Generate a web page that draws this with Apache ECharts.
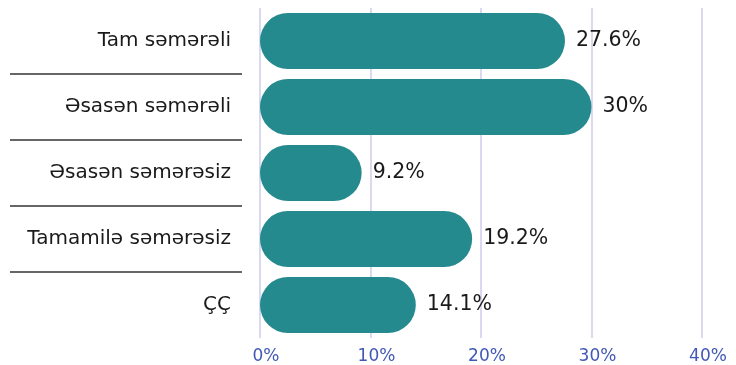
<!DOCTYPE html>
<html>
<head>
<meta charset="utf-8">
<style>
  html, body { margin: 0; padding: 0; background: #ffffff; }
  #chart { width: 736px; height: 365px; }
</style>
<script src="https://cdn.jsdelivr.net/npm/echarts@6/dist/echarts.min.js"></script>
</head>
<body>
<div id="chart"></div>
<script>
// Answer categories, top to bottom
const categories = ['Tam səmərəli', 'Əsasən səmərəli', 'Əsasən səmərəsiz', 'Tamamilə səmərəsiz', 'ÇÇ'];
// Share of respondents, percent
const shares = [27.6, 30, 9.2, 19.2, 14.1];
// Value axis ticks
const tickValues = [0, 10, 20, 30, 40];

const FONT = '"DejaVu Sans", Verdana, sans-serif';
const chart = echarts.init(document.getElementById('chart'));

chart.setOption({
  animation: false,
  grid: [
    { left: 260, right: 34, top: 8, bottom: 27 },
    // label column holding the separator rules
    { left: 10, width: 232, top: 8, bottom: 27 }
  ],
  xAxis: [
    {
      type: 'value', gridIndex: 0,
      min: tickValues[0], max: tickValues[tickValues.length - 1], interval: 10,
      axisLine: { show: false }, axisTick: { show: false },
      axisLabel: { formatter: '{value}%', color: '#4159b5', fontSize: 17, fontFamily: FONT, margin: 10, padding: [0, 0, 0, 12] },
      splitLine: { lineStyle: { color: '#d9d9f0', width: 2 } }
    },
    { type: 'value', gridIndex: 1, show: false, min: 0, max: 1 }
  ],
  yAxis: [
    {
      type: 'category', gridIndex: 0, data: categories, inverse: true,
      axisLine: { show: false }, axisTick: { show: false },
      axisLabel: { color: '#1a1a1a', fontSize: 20, fontFamily: FONT, margin: 29 }
    },
    {
      type: 'category', gridIndex: 1, data: categories, inverse: true,
      axisLine: { show: false }, axisTick: { show: false }, axisLabel: { show: false },
      splitLine: { show: true, showMinLine: false, showMaxLine: false, lineStyle: { color: '#333333', width: 1.5 } }
    }
  ],
  series: [{
    type: 'bar',
    xAxisIndex: 0, yAxisIndex: 0,
    data: shares,
    barCategoryGap: '15%',
    itemStyle: { color: '#258a8e', borderRadius: 28 },
    label: {
      show: true, position: 'right', distance: 11,
      formatter: p => p.value + '%',
      color: '#1a1a1a', fontSize: 20.5, fontFamily: FONT
    }
  }]
});
</script>
</body>
</html>
